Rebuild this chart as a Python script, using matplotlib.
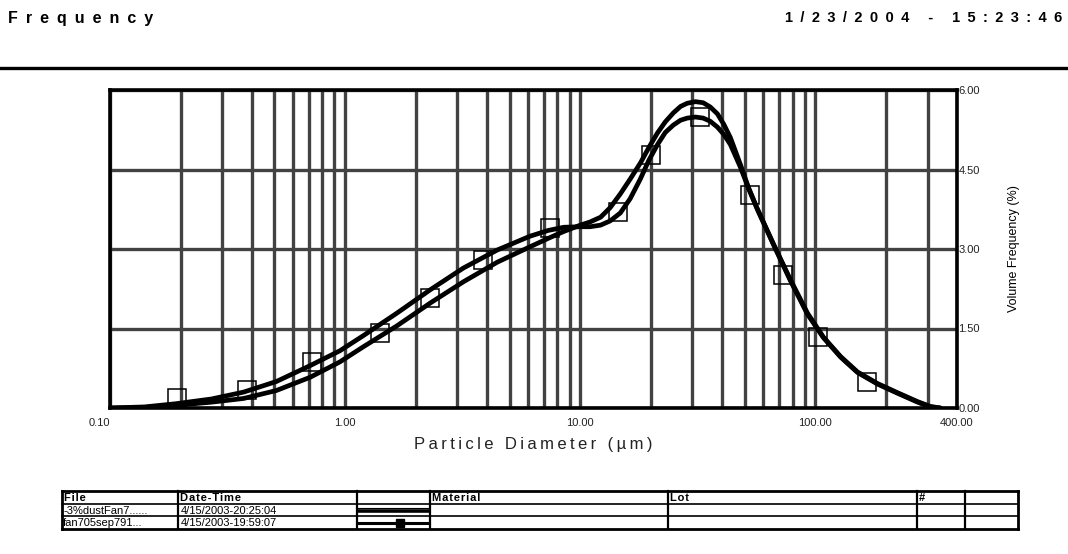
import matplotlib
matplotlib.use("Agg")
import matplotlib.pyplot as plt
from matplotlib.ticker import LogLocator, NullFormatter

plt.rcParams['font.family'] = ['Liberation Sans', 'DejaVu Sans']

# particle diameter (um) / volume frequency (%)
diameter = [0.10, 0.14, 0.19, 0.27, 0.37, 0.51, 0.71, 0.95, 1.19, 1.66,
            2.3, 3.18, 4.43, 6.1, 7.3, 8.5, 10.0, 11.0, 12.2, 13.4,
            14.8, 16.3, 18.0, 19.6, 21.3, 23.0, 24.9, 26.7, 28.5, 30.9,
            33.3, 35.7, 38.3, 40.8, 43.5, 47.9, 52.0, 56.6, 66.2, 78.3,
            92.5, 108, 128, 151, 184, 223, 272, 308, 340]
freq_dust = [0.00, 0.01, 0.05, 0.11, 0.18, 0.33, 0.58, 0.87, 1.15, 1.55,
             1.98, 2.38, 2.75, 3.04, 3.20, 3.33, 3.45, 3.51, 3.60, 3.78,
             4.04, 4.32, 4.62, 4.92, 5.19, 5.40, 5.57, 5.69, 5.75, 5.78,
             5.76, 5.68, 5.55, 5.35, 5.10, 4.60, 4.15, 3.76, 3.10, 2.42,
             1.79, 1.34, 0.97, 0.68, 0.46, 0.29, 0.12, 0.03, 0.00]
freq_sep = [0.00, 0.02, 0.08, 0.17, 0.30, 0.50, 0.80, 1.08, 1.36, 1.79,
            2.23, 2.64, 2.98, 3.24, 3.35, 3.41, 3.42, 3.42, 3.45, 3.53,
            3.68, 3.95, 4.32, 4.68, 4.97, 5.20, 5.34, 5.43, 5.47, 5.49,
            5.47, 5.41, 5.30, 5.16, 4.97, 4.55, 4.14, 3.75, 3.09, 2.40,
            1.77, 1.33, 0.96, 0.67, 0.45, 0.28, 0.11, 0.02, 0.00]

# open squares drawn on the second file's curve
marker_diam = [0.193, 0.383, 0.724, 1.41, 2.30, 3.87, 7.45, 14.4, 19.9, 32.4,
               52.9, 73.1, 103, 166]
marker_freq = [0.19, 0.34, 0.87, 1.42, 2.08, 2.79, 3.40, 3.70, 4.77, 5.49,
               4.02, 2.51, 1.34, 0.49]

x_ticks = [0.1, 1, 10, 100, 400]
x_labels = ['0.10', '1.00', '10.00', '100.00', '400.00']
y_ticks = [0, 1.5, 3.0, 4.5, 6.0]
y_labels = ['0.00', '1.50', '3.00', '4.50', '6.00']

# legend table below the chart
table_headers = ['File', 'Date-Time', '', 'Material', 'Lot', '#', '']
table_files = ['-3%dustFan7......', 'fan705sep791...']
table_times = ['4/15/2003-20:25:04', '4/15/2003-19:59:07']


def spaced(s, sep='\u2009'):
    return sep.join(s)


W, H = 1068, 554
fig = plt.figure(figsize=(W / 100, H / 100), dpi=100)

# chart area in pixel terms of the scan
left, right, top, bottom = 110, 957, 90, 408
ax = fig.add_axes([left / W, 1 - bottom / H, (right - left) / W, (bottom - top) / H])
ax.set_xscale('log')
ax.set_xlim(0.1, 400)
ax.set_ylim(0, 6)

ax.xaxis.set_minor_locator(LogLocator(base=10, subs=range(2, 10)))
ax.xaxis.set_minor_formatter(NullFormatter())
ax.set_xticks(x_ticks)
ax.set_xticklabels(x_labels)
ax.get_xticklabels()[0].set_ha('right')

ax.yaxis.tick_right()
ax.set_yticks(y_ticks)
ax.set_yticklabels(y_labels)
ax.tick_params(which='both', length=0, labelsize=8, labelcolor='#222222')
ax.tick_params(axis='x', pad=7)
ax.tick_params(axis='y', pad=1)

ax.grid(True, which='both', color='#424242', lw=2.4)
ax.set_axisbelow(True)
for sp in ax.spines.values():
    sp.set_linewidth(2.6)

ax.plot(diameter, freq_dust, color='black', lw=3.4, solid_joinstyle='round',
        solid_capstyle='round', zorder=3)
ax.plot(diameter, freq_sep, color='black', lw=3.4, solid_joinstyle='round',
        solid_capstyle='round', zorder=3)
ax.plot(marker_diam, marker_freq, ls='none', marker='s', ms=13, mfc='none',
        mec='black', mew=1.1, zorder=4)

ax.yaxis.set_label_position('right')
ax.set_ylabel('Volume Frequency (%)', fontsize=9, rotation=90, labelpad=20)

# overlay in pixel coordinates for header, axis title and table
ov = fig.add_axes([0, 0, 1, 1], zorder=5)
ov.set_xlim(0, W)
ov.set_ylim(H, 0)
ov.axis('off')
ov.patch.set_visible(False)

ov.text(8, 18, spaced('Frequency', '\u2002'), fontsize=11.5, fontweight='bold',
        va='center', ha='left')
ov.text(1062, 18, spaced('1/23/2004 - 15:23:46', '\u2002'), fontsize=10.5,
        fontweight='bold', va='center', ha='right')
ov.plot([0, W], [68, 68], color='black', lw=2.4)

ov.text((left + right) / 2, 445, spaced('Particle Diameter (\u00b5m)'), fontsize=12,
        va='center', ha='center', color='#222222')

# table grid
cols = [62, 178, 357, 430, 668, 917, 965, 1018]
rows = [491, 504, 516, 529]
for i, y in enumerate(rows):
    ov.plot([cols[0], cols[-1]], [y, y], color='black',
            lw=2.0 if i in (0, len(rows) - 1) else 1.2)
for j, x in enumerate(cols):
    ov.plot([x, x], [rows[0], rows[-1]], color='black',
            lw=2.0 if j in (0, len(cols) - 1) else 1.6)

for j, h in enumerate(table_headers):
    if h:
        ov.text(cols[j] + 2, (rows[0] + rows[1]) / 2 + 0.5, spaced(h, '\u200a'),
                fontsize=8, fontweight='bold', va='center', ha='left')
for r, (f, t) in enumerate(zip(table_files, table_times)):
    yc = (rows[r + 1] + rows[r + 2]) / 2 + 0.5
    ov.text(cols[0] + 1, yc, f, fontsize=8, va='center', ha='left')
    ov.text(cols[1] + 3, yc, t, fontsize=8, va='center', ha='left')

# line samples in the legend column
y1 = (rows[1] + rows[2]) / 2
y2 = (rows[2] + rows[3]) / 2
ov.plot([cols[2] + 1, cols[3] - 1], [y1 + 1, y1 + 1], color='black', lw=2.6)
ov.plot([cols[2] + 1, cols[3] - 1], [y1 - 2.5, y1 - 2.5], color='black', lw=0.8)
ov.plot([cols[2] + 1, cols[3] - 1], [y2, y2], color='black', lw=2.2)
ov.plot([(cols[2] + cols[3]) / 2 + 6], [y2], marker='s', ms=6, color='black')

fig.savefig('out.png', dpi=100)
